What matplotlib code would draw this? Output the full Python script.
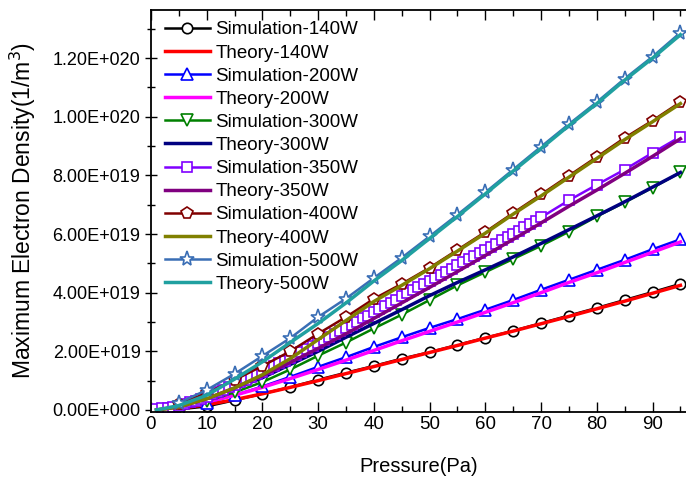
import math
import matplotlib
matplotlib.use("Agg")
import matplotlib.pyplot as plt
from matplotlib.ticker import MultipleLocator, FuncFormatter

plt.rcParams["font.family"] = ["Liberation Sans", "DejaVu Sans"]

# pressure grids (Pa)
p_sim = [5, 10, 15, 20, 25, 30, 35, 40, 45, 50, 55, 60, 65, 70, 75, 80, 85, 90, 95]
p_theory = [1, 5, 10, 15, 20, 25, 30, 35, 40, 45, 50, 55, 60, 65, 70, 75, 80, 85, 90, 95]
p_sim350 = list(range(1, 71)) + [75, 80, 85, 90, 95]

# electron density, units of 1e19 m^-3
sim_140 = [0.02, 0.12, 0.33, 0.55, 0.78, 1.03, 1.27, 1.5, 1.75, 1.97, 2.22, 2.46, 2.7, 2.96, 3.22, 3.48, 3.75, 4.02, 4.3]
th_140 = [0.0, 0.05, 0.18, 0.35, 0.55, 0.77, 1.0, 1.24, 1.48, 1.72, 1.96, 2.2, 2.45, 2.69, 2.94, 3.19, 3.45, 3.71, 3.98, 4.25]
sim_200 = [0.03, 0.25, 0.5, 0.8, 1.13, 1.47, 1.8, 2.15, 2.48, 2.8, 3.1, 3.42, 3.75, 4.1, 4.44, 4.78, 5.12, 5.48, 5.82]
th_200 = [0.0, 0.08, 0.27, 0.5, 0.77, 1.07, 1.38, 1.7, 2.03, 2.36, 2.68, 3.0, 3.33, 3.66, 4.0, 4.35, 4.68, 5.03, 5.38, 5.73]
sim_300 = [0.03, 0.3, 0.6, 0.95, 1.38, 1.85, 2.3, 2.78, 3.25, 3.75, 4.25, 4.7, 5.15, 5.6, 6.08, 6.6, 7.08, 7.58, 8.1]
th_300 = [0.0, 0.12, 0.4, 0.72, 1.1, 1.55, 2.0, 2.48, 2.95, 3.42, 3.9, 4.35, 4.78, 5.22, 5.68, 6.15, 6.62, 7.1, 7.6, 8.1]
sim_350 = [0.02, 0.05, 0.08, 0.11, 0.15, 0.2, 0.26, 0.32, 0.38, 0.45,
           0.53, 0.61, 0.69, 0.77, 0.85, 0.94, 1.03, 1.12, 1.21, 1.3,
           1.4, 1.49, 1.59, 1.68, 1.78, 1.88, 1.98, 2.08, 2.18, 2.28,
           2.38, 2.49, 2.59, 2.7, 2.8, 2.91, 3.01, 3.12, 3.22, 3.33,
           3.44, 3.55, 3.65, 3.76, 3.87, 3.98, 4.08, 4.19, 4.29, 4.4,
           4.51, 4.61, 4.72, 4.82, 4.93, 5.03, 5.14, 5.24, 5.35, 5.45,
           5.56, 5.67, 5.78, 5.89, 6.0, 6.11, 6.23, 6.34, 6.46, 6.57,
           7.15, 7.68, 8.2, 8.77, 9.32]
th_350 = [0.0, 0.1, 0.38, 0.75, 1.17, 1.62, 2.1, 2.6, 3.12, 3.65, 4.18, 4.72, 5.27, 5.82, 6.38, 6.95, 7.5, 8.07, 8.65, 9.25]
sim_400 = [0.2, 0.58, 1.02, 1.5, 2.0, 2.6, 3.17, 3.79, 4.3, 4.85, 5.46, 6.07, 6.72, 7.35, 7.99, 8.63, 9.28, 9.87, 10.5]
th_400 = [0.0, 0.1, 0.38, 0.75, 1.2, 1.75, 2.4, 3.05, 3.7, 4.25, 4.82, 5.42, 6.03, 6.68, 7.3, 7.94, 8.58, 9.22, 9.83, 10.45]
sim_500 = [0.24, 0.68, 1.23, 1.84, 2.45, 3.17, 3.8, 4.5, 5.19, 5.92, 6.66, 7.42, 8.2, 8.98, 9.75, 10.5, 11.3, 12.05, 12.87]
th_500 = [0.0, 0.15, 0.5, 1.05, 1.64, 2.3, 2.95, 3.65, 4.4, 5.1, 5.85, 6.6, 7.37, 8.15, 8.92, 9.7, 10.45, 11.25, 12.0, 12.8]

E19 = 1e19


def sci_fmt(v, pos):
    if v == 0:
        return "0.00E+000"
    exp = int(math.floor(math.log10(abs(v)) + 1e-9))
    mant = v / 10 ** exp
    return f"{mant:.2f}E{exp:+04d}"


fig = plt.figure(figsize=(6.86, 4.79), dpi=100)
ax = fig.add_axes([0.220, 0.140, 0.780, 0.839])

sim_kw = dict(linewidth=1.8, markerfacecolor="white", markeredgewidth=1.2)
th_kw = dict(linewidth=2.5)

ax.plot(p_sim, [v * E19 for v in sim_140], color="black", marker="o", markersize=7.5, label="Simulation-140W", **sim_kw)
ax.plot(p_theory, [v * E19 for v in th_140], color="red", label="Theory-140W", **th_kw)
ax.plot(p_sim, [v * E19 for v in sim_200], color="blue", marker="^", markersize=8, label="Simulation-200W", **sim_kw)
ax.plot(p_theory, [v * E19 for v in th_200], color="magenta", label="Theory-200W", **th_kw)
ax.plot(p_sim, [v * E19 for v in sim_300], color="#008000", marker="v", markersize=8, label="Simulation-300W", **sim_kw)
ax.plot(p_theory, [v * E19 for v in th_300], color="#000080", label="Theory-300W", **th_kw)
ax.plot(p_sim350, [v * E19 for v in sim_350], color="#8000FF", marker="s", markersize=7, label="Simulation-350W", **sim_kw)
ax.plot(p_theory, [v * E19 for v in th_350], color="#800080", label="Theory-350W", **th_kw)
ax.plot(p_sim, [v * E19 for v in sim_400], color="#800000", marker="p", markersize=8.5, label="Simulation-400W", **sim_kw)
ax.plot(p_theory, [v * E19 for v in th_400], color="#808000", label="Theory-400W", **th_kw)
ax.plot(p_sim, [v * E19 for v in sim_500], color="#3A6EB5", marker="*", markersize=11, label="Simulation-500W", **sim_kw)
ax.plot(p_theory, [v * E19 for v in th_500], color="#20A0A0", label="Theory-500W", **th_kw)

ax.set_xlim(0, 96)
ax.set_ylim(-0.068 * E19, 13.64 * E19)

ax.xaxis.set_major_locator(MultipleLocator(10))
ax.xaxis.set_minor_locator(MultipleLocator(5))
ax.yaxis.set_major_locator(MultipleLocator(2 * E19))
ax.yaxis.set_minor_locator(MultipleLocator(1 * E19))
ax.yaxis.set_major_formatter(FuncFormatter(sci_fmt))

ax.tick_params(axis="x", which="both", direction="in", top=True, labelsize=13.5, pad=3)
ax.tick_params(axis="x", which="major", length=7, width=1)
ax.tick_params(axis="x", which="minor", length=4, width=1)
ax.tick_params(axis="y", which="both", direction="inout", right=False, labelsize=13, pad=3)
ax.tick_params(axis="y", which="major", length=9, width=1)
ax.tick_params(axis="y", which="minor", length=6, width=1)

for s in ["left", "bottom", "top"]:
    ax.spines[s].set_linewidth(1.3)
ax.spines["right"].set_visible(False)

ax.set_xlabel("Pressure(Pa)", fontsize=14.5, labelpad=17)
ax.set_ylabel("Maximum Electron Density(1/m$^3$)", fontsize=16.5, labelpad=10)

ax.legend(loc="upper left", bbox_to_anchor=(0.026, 0.972), frameon=False,
          fontsize=13.5, handlelength=2.4, handletextpad=0.3, labelspacing=0.32,
          borderpad=0, borderaxespad=0)

fig.savefig("out.png", dpi=100)
